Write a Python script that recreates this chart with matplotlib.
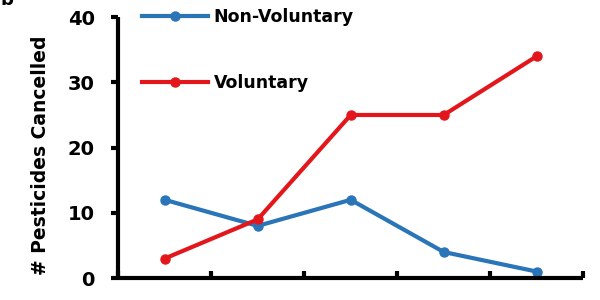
import matplotlib
matplotlib.use("Agg")
import matplotlib.pyplot as plt

categories = ["1", "2", "3", "4", "5"]
non_voluntary = [12, 8, 12, 4, 1]
voluntary = [3, 9, 25, 25, 34]
y_ticks = [0, 10, 20, 30, 40]

plt.rcParams["font.family"] = ["DejaVu Sans"]
plt.rcParams["font.weight"] = "bold"

fig = plt.figure(figsize=(6, 3), dpi=100)
ax = fig.add_axes([0.197, 0.073, 0.775, 0.870])

x = list(range(len(categories)))
ax.plot(x, non_voluntary, "-o", color="#2a74b8", lw=3, ms=6.5, label="Non-Voluntary")
ax.plot(x, voluntary, "-o", color="#e3161c", lw=3, ms=6.5, label="Voluntary")

ax.set_xlim(-0.5, len(categories) - 0.5)
ax.set_ylim(0, 40)
ax.set_yticks(y_ticks)
ax.set_xticks([i - 0.5 for i in range(len(categories) + 1)])
ax.set_xticklabels([])

for s in ["top", "right"]:
    ax.spines[s].set_visible(False)
for s in ["left", "bottom"]:
    ax.spines[s].set_linewidth(3)
    ax.spines[s].set_capstyle("butt")

ax.tick_params(axis="y", direction="out", length=5, width=3, pad=12, labelsize=14)
ax.tick_params(axis="x", direction="in", length=5, width=3)
for t in ax.get_yticklabels():
    t.set_fontweight("bold")

ax.set_ylabel("# Pesticides Cancelled", fontsize=13.5, fontweight="bold")
ax.yaxis.set_label_coords(-0.146, 0.47)

ax.legend(loc="upper left", bbox_to_anchor=(0.052, 1.035), frameon=False,
          handlelength=3.8, handletextpad=0.3, labelspacing=2.75,
          borderpad=0, borderaxespad=0, prop={"weight": "bold", "size": 12.5})

fig.text(0.0, 1.0, "b", fontsize=13, fontweight="bold", va="center", ha="left")

fig.savefig("out.png", dpi=100)
